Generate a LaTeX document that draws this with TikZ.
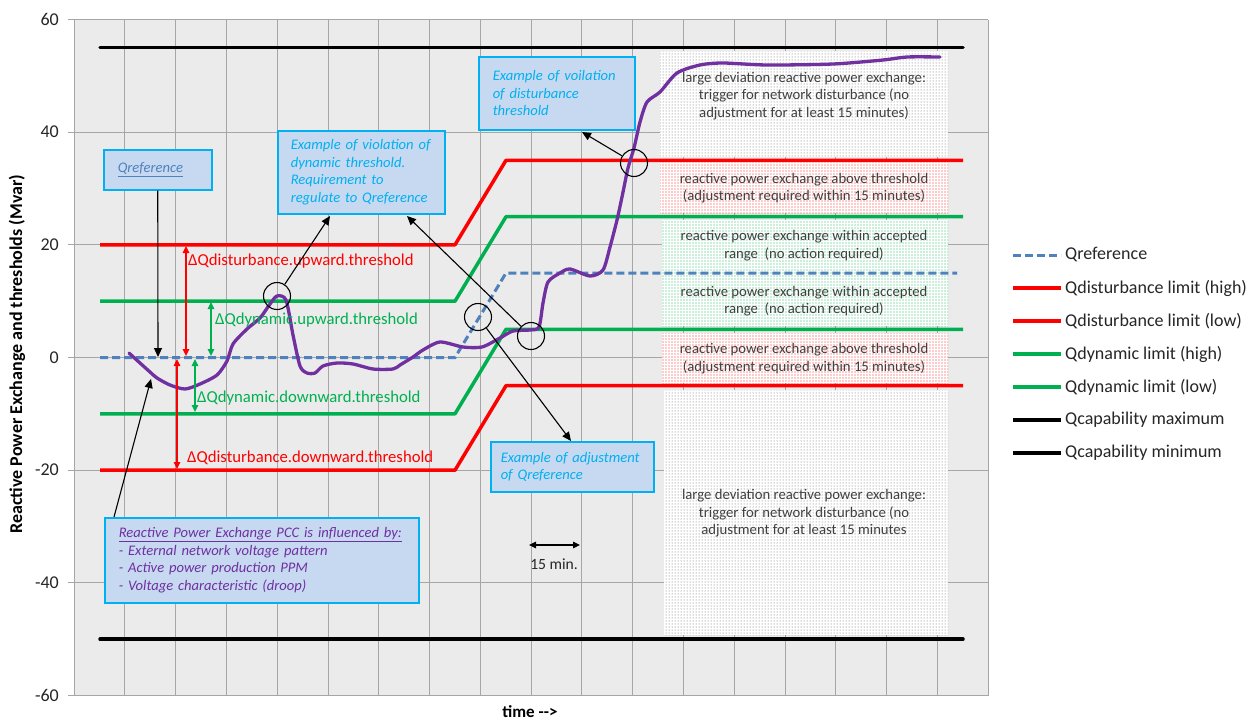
\documentclass[tikz,border=0pt]{standalone}
\usepackage{fontspec}
\setmainfont{Carlito}
\usetikzlibrary{arrows.meta,patterns,patterns.meta,calc}
\definecolor{plotbg}{HTML}{EBEBEB}
\definecolor{gridc}{HTML}{A6A6A6}
\definecolor{qred}{HTML}{FF0000}
\definecolor{qgreen}{HTML}{00B050}
\definecolor{qblue}{HTML}{4F81BD}
\definecolor{qpurple}{HTML}{7030A0}
\definecolor{boxfill}{HTML}{C6D9F1}
\definecolor{boxline}{HTML}{00B0F0}
\definecolor{regtextc}{HTML}{404040}
\definecolor{legtext}{HTML}{262626}
\tikzset{
  gridline/.style={draw=gridc, line width=0.8pt},
  redline/.style={draw=qred, line width=3.5pt, line join=round},
  greenline/.style={draw=qgreen, line width=3.5pt, line join=round},
  blackline/.style={draw=black, line width=3.5pt, line cap=round},
  refline/.style={draw=qblue, line width=3pt, dash pattern=on 8pt off 4pt},
  purpleline/.style={draw=qpurple, line width=3.3pt, line join=round, line cap=round},
  annbox/.style={draw=boxline, line width=1.5pt, fill=boxfill, anchor=north west,
    inner xsep=0pt, inner ysep=0pt, align=left,
    font=\fontsize{14.6}{17.6}\selectfont\itshape, text=boxline},
  regtext/.style={align=center, text=regtextc, inner sep=0pt,
    font=\fontsize{14.7}{17.5}\selectfont},
  circmark/.style={circle, draw=black, line width=1.1pt, minimum size=27pt, inner sep=0pt},
  annarrow/.style={draw=black, line width=1.1pt, -{Triangle[length=9pt,width=8pt]}},
  dblarrow/.style={line width=1.1pt, {Triangle[length=7pt,width=6.5pt]}-{Triangle[length=7pt,width=6.5pt]}},
  deltalabel/.style={anchor=west, inner sep=0pt, font=\fontsize{16.7}{20}\selectfont},
  ticklabel/.style={anchor=east, inner sep=0pt, font=\fontsize{18}{21}\selectfont, text=legtext},
  legendlabel/.style={anchor=west, inner sep=0pt, font=\fontsize{18}{21}\selectfont, text=legtext},
  regred/.style={preaction={fill=white}, pattern={Dots[distance=3pt, radius=0.55pt]}, pattern color=qred!85},
  reggreen/.style={preaction={fill=white}, pattern={Dots[distance=3pt, radius=0.55pt]}, pattern color=qgreen!85},
  reggray/.style={preaction={fill=white}, pattern={Dots[distance=3pt, radius=0.5pt]}, pattern color=black!60},
}
\begin{document}
\begin{tikzpicture}[x=1pt, y=-1pt]
\useasboundingbox (0,0) rectangle (1252,720);
\fill[white] (0,0) rectangle (1252,720);
% plot area
\fill[plotbg] (74,19.5) rectangle (988,695.5);
\foreach \i in {0,...,18} {
  \draw[gridline] ({74+50.78*\i},19.5) -- ({74+50.78*\i},695.5);
}
\foreach \j in {0,...,6} {
  \draw[gridline] (68,{19.5+112.67*\j}) -- (988,{19.5+112.67*\j});
}
% tick labels
\node[ticklabel] (l60) at (59,19.5) {60};
\node[ticklabel] (l40) at (59,132.2) {40};
\node[ticklabel] (l20) at (59,244.8) {20};
\node[ticklabel] (l0) at (59,357.5) {0};
\node[ticklabel] (lm20) at (59,470.2) {-20};
\node[ticklabel] (lm40) at (59,582.8) {-40};
\node[ticklabel] (lm60) at (59,695.5) {-60};
% axis titles
\node[rotate=90, inner sep=0pt, font=\fontsize{18}{21}\selectfont\bfseries] (ytitle) at (17,354) {Reactive Power Exchange and thresholds (Mvar)};
\node[inner sep=0pt, font=\fontsize{17}{20}\selectfont\bfseries] (xtitle) at (530,712) {time -{}->};
% regions
\path[reggray] (660,51) rectangle (948,157);
\path[regred] (660,162) rectangle (948,213);
\path[reggreen] (662,220) rectangle (948,326);
\path[regred] (662,333) rectangle (948,383);
\path[reggray] (664,390) rectangle (948,635);
\node[regtext] (r1) at (804,96) {large deviation reactive power exchange:\\trigger for network disturbance (no\\adjustment for at least 15 minutes)};
\node[regtext] (r2) at (804,188) {reactive power exchange above threshold\\(adjustment required within 15 minutes)};
\node[regtext] (r3) at (804,245.5) {reactive power exchange within accepted\\range\ \ (no action required)};
\node[regtext] (r4) at (804,301) {reactive power exchange within accepted\\range\ \ (no action required)};
\node[regtext] (r5) at (804,358.5) {reactive power exchange above threshold\\(adjustment required within 15 minutes)};
\node[regtext] (r6) at (804,513.5) {large deviation reactive power exchange:\\trigger for network disturbance (no\\adjustment for at least 15 minutes};
% limit lines
\draw[blackline] (100,47.7) -- (963,47.7);
\draw[blackline] (100,639.2) -- (963,639.2);
\draw[redline] (100,244.8) -- (455,244.8) -- (506,160.3) -- (963,160.3);
\draw[greenline] (100,301.2) -- (455,301.2) -- (506,216.7) -- (963,216.7);
\draw[refline] (100,357.5) -- (455,357.5) -- (506,273) -- (957,273);
\draw[greenline] (100,413.8) -- (455,413.8) -- (506,329.3) -- (963,329.3);
\draw[redline] (100,470.2) -- (455,470.2) -- (506,385.7) -- (963,385.7);
% reactive power exchange curve
\draw[purpleline] plot[smooth, tension=0.45] coordinates {
 (129,353) (140,363) (150,372) (157,378) (170,385) (185,389) (200,384) (217,375)
 (227,361) (233,344) (247,329) (260,318) (270,304) (277,296) (286,300) (293,335)
 (300,366) (307,373) (315,373) (323,366) (337,363) (353,364) (373,369) (393,369)
 (400,365) (413,357) (423,350) (440,342) (463,347) (482,347) (500,338) (513,331)
 (530,330) (539,327) (543,303) (548,282) (560,273) (570,269) (590,276) (603,270)
 (610,247) (617,220) (622,197) (628,168) (634,148) (640,122) (647,102) (660,92)
 (677,73) (700,65) (723,63) (767,65) (833,64) (883,60) (907,57) (940,57)};
% delta arrows
\coordinate (du1) at (186,246); \coordinate (du0) at (186,356);
\coordinate (gu1) at (211,302); \coordinate (gu0) at (211,356);
\coordinate (dd0) at (177,359); \coordinate (dd1) at (177,469);
\coordinate (gd0) at (195,359); \coordinate (gd1) at (195,412);
\draw[dblarrow, qred] (du0) -- (du1);
\draw[dblarrow, qgreen] (gu0) -- (gu1);
\draw[dblarrow, qred] (dd0) -- (dd1);
\draw[dblarrow, qgreen] (gd0) -- (gd1);
\node[deltalabel, text=qred] (dlu) at (188,261) {ΔQdisturbance.upward.threshold};
\node[deltalabel, text=qgreen] (glu) at (215,320) {ΔQdynamic.upward.threshold};
\node[deltalabel, text=qgreen] (gld) at (197,398) {ΔQdynamic.downward.threshold};
\node[deltalabel, text=qred] (dld) at (187,458) {ΔQdisturbance.downward.threshold};
% circles
\node[circmark] (cpeak) at (277,296) {};
\node[circmark] (c1) at (478,317) {};
\node[circmark] (c2) at (531,336) {};
\node[circmark] (c3) at (634,163) {};
% boxes
\node[annbox, minimum width=108pt, minimum height=40pt, text width=80pt, text=qblue] (qref) at (103,149) {\underline{Qreference}};
\node[annbox, minimum width=167pt, minimum height=83pt, text width=141pt] (dyn) at (277,130) {Example of violation of\\dynamic threshold.\\Requirement to\\regulate to Qreference};
\node[annbox, minimum width=156pt, minimum height=73pt, text width=128pt] (dist) at (478,56) {Example of voilation\\of disturbance\\threshold};
\node[annbox, minimum width=163pt, minimum height=50pt, text width=143pt] (adj) at (490,441) {Example~of~adjustment\\of Qreference};
\node[annbox, minimum width=314pt, minimum height=85pt, text width=286pt, text=qpurple] (pcc) at (104,517) {\underline{Reactive Power Exchange PCC is influenced by:}\\- External network voltage pattern\\- Active power production PPM\\- Voltage characteristic (droop)};
% annotation arrows
\coordinate (t1) at (158,357);
\coordinate (t2) at (151,379);
\coordinate (t3) at (330,216);
\coordinate (t4) at (407,216);
\coordinate (t5) at (571,441);
\coordinate (t6) at (582,132);
\draw[annarrow] (qref.south) -- (t1);
\draw[annarrow] ($(pcc.north west)+(10,0)$) -- (t2);
\draw[annarrow] (cpeak) -- (t3);
\draw[annarrow] (c2) -- (t4);
\draw[annarrow] (c1) -- (t5);
\draw[annarrow] (c3) -- (t6);
% 15 min
\coordinate (m1) at (529,545);
\coordinate (m2) at (580,545);
\draw[dblarrow, black] (m1) -- (m2);
\node[inner sep=0pt, font=\fontsize{15.6}{18}\selectfont, text=legtext] (min15) at (554,564) {15 min.};
% legend
\draw[refline] (1013,255) -- (1061,255);
\draw[redline] (1013,288) -- (1061,288);
\draw[redline] (1013,321) -- (1061,321);
\draw[greenline] (1013,354) -- (1061,354);
\draw[greenline] (1013,387) -- (1061,387);
\draw[draw=black, line width=3.5pt] (1013,420) -- (1061,420);
\draw[draw=black, line width=3.5pt] (1013,453) -- (1061,453);
\node[legendlabel] (lg1) at (1065,255) {Qreference};
\node[legendlabel] (lg2) at (1065,288) {Qdisturbance limit (high)};
\node[legendlabel] (lg3) at (1065,321) {Qdisturbance limit (low)};
\node[legendlabel] (lg4) at (1065,354) {Qdynamic limit (high)};
\node[legendlabel] (lg5) at (1065,387) {Qdynamic limit (low)};
\node[legendlabel] (lg6) at (1065,420) {Qcapability maximum};
\node[legendlabel] (lg7) at (1065,453) {Qcapability minimum};
\end{tikzpicture}
\end{document}
